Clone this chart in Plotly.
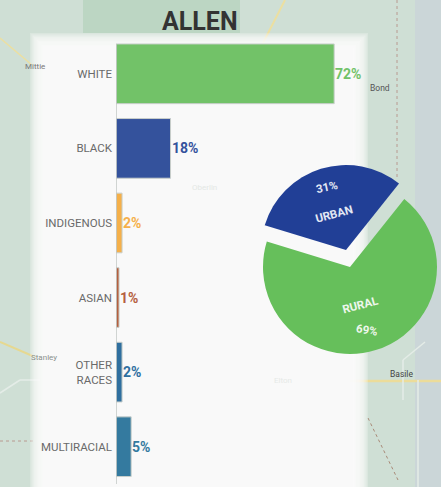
import plotly.graph_objects as go

W, H = 441, 487
categories = ["WHITE", "BLACK", "INDIGENOUS", "ASIAN", "OTHER<br>RACES", "MULTIRACIAL"]
race_values = [72, 18, 2, 1, 2, 5]
race_colors = ["#72c268", "#34529c", "#f5b04a", "#b5603f", "#2f6f9f", "#347a9f"]
area_labels = ["URBAN", "RURAL"]
area_values = [31, 69]
area_colors = ["#213f96", "#66bf5b"]
title_text = "ALLEN"

FONT = "Roboto, sans-serif"
px = lambda v: v / W
py = lambda v: 1 - v / H


def rect(x0, y0, x1, y1, color, opacity=1.0):
    return dict(type="rect", xref="paper", yref="paper", layer="below",
                x0=px(x0), x1=px(x1), y0=py(y1), y1=py(y0),
                fillcolor=color, opacity=opacity, line_width=0)


def seg(x0, y0, x1, y1, color, width=1.5, dash="solid", opacity=1.0):
    return dict(type="line", xref="paper", yref="paper", layer="below",
                x0=px(x0), x1=px(x1), y0=py(y0), y1=py(y1),
                line=dict(color=color, width=width, dash=dash), opacity=opacity)


shapes = [
    rect(0, 0, W, H, "#cfdfd5"),
    rect(415, 0, W, H, "#cbd6d8"),
    rect(83, 0, 240, 33, "#bcd6c3"),
    seg(285, 0, 262, 45, "#ecdfa0", 2),
    seg(0, 38, 32, 65, "#ecdfa0", 1.5),
    seg(0, 342, 35, 357, "#e6d890", 2),
    seg(0, 393, 20, 380, "#e4ece7", 1.5),
    seg(20, 380, 40, 380, "#e4ece7", 1.5),
    seg(397, 0, 397, 180, "#b89a90", 1, "dot"),
    seg(350, 381, 441, 381, "#ecdc9a", 2.5),
    seg(0, 441, 35, 441, "#b89a90", 1, "dot"),
    seg(368, 418, 398, 480, "#a98a78", 1, "dot"),
    seg(403, 360, 403, 400, "#e4ece7", 1.5),
    seg(403, 360, 425, 342, "#e4ece7", 1.5),
    seg(418, 380, 418, 487, "#e4ece7", 1.5),
]
for i in range(12):
    shapes.append(rect(30 + 1.3 * i, 33 + 1.3 * i, 368 - 1.3 * i, H, "#fcfdfd", 0.25))

fig = go.Figure()
fig.add_trace(go.Bar(
    x=race_values, y=categories, orientation="h",
    marker=dict(color=race_colors, line=dict(color="#c9cfcb", width=1)),
    hoverinfo="skip", showlegend=False,
))

# the same split drawn twice, so the urban wedge can sit apart from the rural one
fig.add_trace(go.Pie(
    values=area_values, labels=area_labels, sort=False, direction="clockwise", rotation=-73,
    marker=dict(colors=["rgba(0,0,0,0)", area_colors[1]], line_width=0),
    textinfo="none", hoverinfo="skip", showlegend=False,
    domain=dict(x=[px(263), px(437)], y=[py(354), py(180)]),
))
fig.add_trace(go.Pie(
    values=area_values, labels=area_labels, sort=False, direction="clockwise", rotation=-73,
    marker=dict(colors=[area_colors[0], "rgba(0,0,0,0)"], line_width=0),
    textinfo="none", hoverinfo="skip", showlegend=False,
    domain=dict(x=[px(261), px(431)], y=[py(335), py(165)]),
))


def note(x, y, text, size, color, angle=0, bold=False, family=FONT):
    return dict(xref="paper", yref="paper", x=px(x), y=py(y), text=text, showarrow=False,
                xanchor="center", yanchor="middle", textangle=angle,
                font=dict(family=family, size=size, color=color, weight="bold" if bold else "normal"))


annotations = [
    note(200, 21, title_text, 25, "#333333", bold=True),
    note(327, 187, f"{area_values[0]}%", 11.5, "#e4e9f4", -12, True),
    note(334, 214, area_labels[0], 11.5, "#e4e9f4", -15, True),
    note(360, 305, area_labels[1], 11.5, "#eef7ec", -15, True),
    note(367, 330, f"{area_values[1]}%", 11.5, "#eef7ec", 10, True),
    note(35, 66, "Mittie", 8, "#777777"),
    note(380, 88, "Bond", 8.5, "#555555"),
    note(204, 187, "Oberlin", 8, "#e4e8e5"),
    note(283, 380, "Elton", 8, "#e6e9e7"),
    note(401, 374, "Basile", 8.5, "#444444"),
    note(44, 357, "Stanley", 8, "#8a908c"),
]
for cat, val, col in zip(categories, race_values, race_colors):
    annotations.append(dict(xref="x", yref="y", x=val, y=cat, text=f"{val}%", showarrow=False,
                            xanchor="left", yanchor="middle", xshift=-1,
                            font=dict(family=FONT, size=14, color=col, weight="bold")))

fig.update_layout(
    width=W, height=H, margin=dict(l=0, r=0, t=0, b=0),
    paper_bgcolor="#cfdfd5", plot_bgcolor="rgba(0,0,0,0)",
    showlegend=False, bargap=0.2, shapes=shapes, annotations=annotations,
    xaxis=dict(domain=[px(116), 1], range=[0, (W - 116) / 3.03], visible=False, fixedrange=True),
    yaxis=dict(domain=[py(484), py(36.5)], autorange="reversed", type="category",
               showgrid=False, zeroline=False, ticks="", showline=False, fixedrange=True,
               tickfont=dict(family=FONT, size=11.5, color="#6a6a6a"), ticklabelstandoff=3),
)
fig.add_shape(type="line", xref="x", yref="paper", layer="above",
              x0=0, x1=0, y0=py(484), y1=py(44), line=dict(color="#c2c7c4", width=1.5))
fig.write_html("out.html", config=dict(displayModeBar=False),
               post_script="document.body.style.margin='0';document.body.style.overflow='hidden';")
